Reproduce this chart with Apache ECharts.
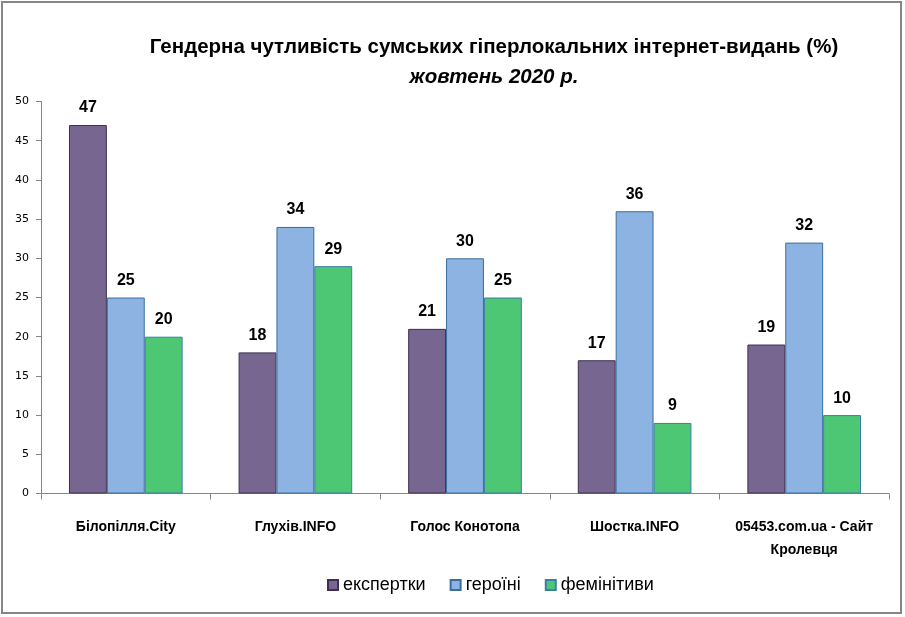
<!DOCTYPE html>
<html>
<head>
<meta charset="utf-8">
<script src="https://cdn.jsdelivr.net/npm/echarts@6/dist/echarts.min.js"></script>
<style>
  html, body { margin: 0; padding: 0; background: #fff; }
  #chart { width: 905px; height: 617px; }
  #frame { position: absolute; left: 1px; top: 1px; width: 901px; height: 613px; border: 2px solid #868686; box-sizing: border-box; pointer-events: none; }
</style>
</head>
<body>
<div id="chart"></div>
<div id="frame"></div>
<script>
var categories = ["Білопілля.City", "Глухів.INFO", "Голос Конотопа", "Шостка.INFO", "05453.com.ua - Сайт Кролевця"];
var seriesNames = ["експертки", "героїні", "фемінітиви"];
var experts = [47, 18, 21, 17, 19];
var heroines = [25, 34, 30, 36, 32];
var feminitives = [20, 29, 25, 9, 10];
var yTicks = [0, 5, 10, 15, 20, 25, 30, 35, 40, 45, 50];

var font = "'Liberation Sans', sans-serif";
var colors = ["#77668F", "#8DB3E2", "#4DC774"];
var borders = ["#3E3052", "#3A6E9E", "#3A7FA8"];

// wrap long category names onto two lines
function wrapLabel(s) {
  if (s.length <= 20) return s;
  var cut = s.lastIndexOf(" ", 20);
  return s.slice(0, cut) + "\n" + s.slice(cut + 1);
}

function makeSeries(name, data, i) {
  return {
    name: name,
    type: "bar",
    data: data,
    barGap: "0%",
    barCategoryGap: "33%",
    itemStyle: { color: colors[i], borderColor: borders[i], borderWidth: 1 },
    label: {
      show: true,
      position: "top",
      distance: 9,
      color: "#000",
      fontWeight: "bold",
      fontSize: 16,
      fontFamily: font
    }
  };
}

var chart = echarts.init(document.getElementById("chart"));
chart.setOption({
  animation: false,
  title: [
    {
      text: "Гендерна чутливість сумських гіперлокальних інтернет-видань (%)",
      left: 489, top: 32, textAlign: "center",
      textStyle: { fontFamily: font, fontWeight: "bold", fontSize: 20.5, color: "#000" }
    },
    {
      text: "жовтень 2020 р.",
      left: 489, top: 62, textAlign: "center",
      textStyle: { fontFamily: font, fontWeight: "bold", fontStyle: "italic", fontSize: 20.5, color: "#000" }
    }
  ],
  legend: {
    data: seriesNames,
    top: 571,
    left: 322,
    icon: "rect",
    itemWidth: 10,
    itemHeight: 10,
    itemGap: 24,
    textStyle: { fontSize: 18, color: "#000", fontFamily: font }
  },
  grid: { left: 41, right: 16, top: 101.5, bottom: 123.5 },
  xAxis: {
    type: "category",
    data: categories,
    axisLine: { lineStyle: { color: "#868686" } },
    axisTick: { show: true, length: 6, lineStyle: { color: "#868686" } },
    axisLabel: {
      margin: 22,
      fontFamily: font,
      fontWeight: "bold",
      fontSize: 14,
      color: "#000",
      lineHeight: 23,
      interval: 0,
      formatter: wrapLabel
    }
  },
  yAxis: {
    type: "value",
    min: 0,
    max: 50,
    interval: 5,
    splitLine: { show: false },
    axisLine: { show: true, lineStyle: { color: "#868686" } },
    axisTick: { show: true, length: 5, lineStyle: { color: "#868686" } },
    axisLabel: {
      margin: 12,
      fontFamily: "'DejaVu Sans', sans-serif",
      fontSize: 11,
      color: "#000",
      formatter: function (v) { return yTicks.indexOf(v) >= 0 ? String(v) : ""; }
    }
  },
  series: [
    makeSeries(seriesNames[0], experts, 0),
    makeSeries(seriesNames[1], heroines, 1),
    makeSeries(seriesNames[2], feminitives, 2)
  ]
});
</script>
</body>
</html>
